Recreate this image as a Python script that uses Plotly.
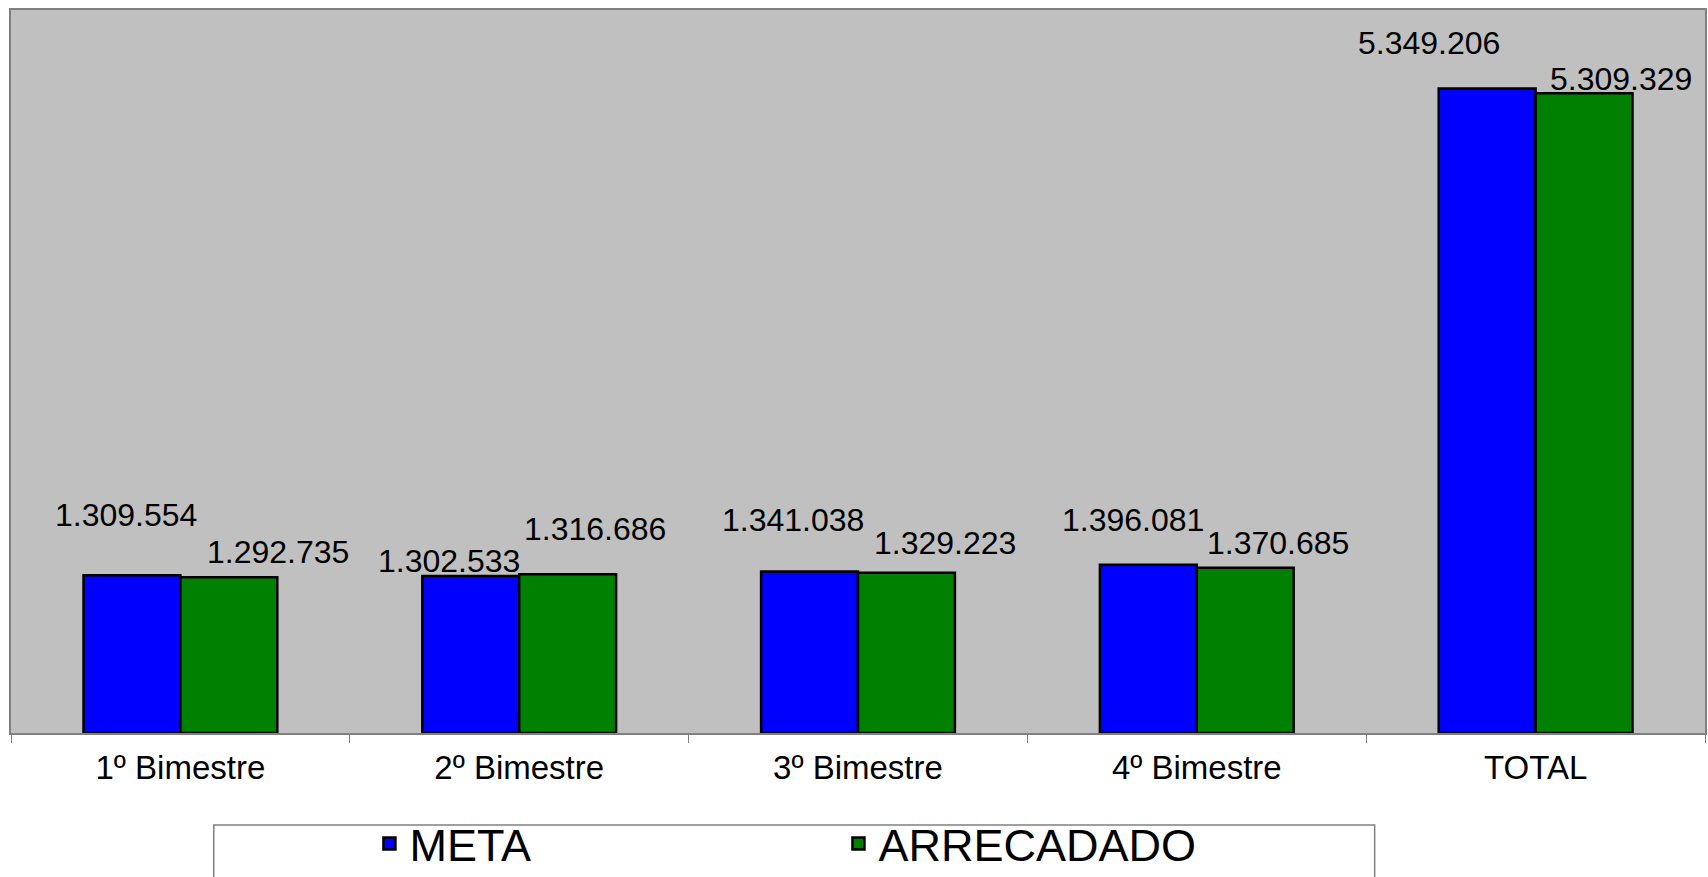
import plotly.graph_objects as go

categories = ["1º Bimestre", "2º Bimestre", "3º Bimestre", "4º Bimestre", "TOTAL"]
meta = [1309554, 1302533, 1341038, 1396081, 5349206]
arrecadado = [1292735, 1316686, 1329223, 1370685, 5309329]

# label offsets in px (style only): (dx from bar centre, dy above bar top)
meta_off = [(-6, 60), (-22, 15), (-17, 51), (-15, 45), (-58, 45)]
arr_off = [(49, 25), (27, 45), (38, 30), (33, 25), (37, 14)]

FONT = "Liberation Sans, Arial, sans-serif"
BAR_HALF = 48.5


def fmt(v):
    return f"{v:,}".replace(",", ".")


fig = go.Figure()
fig.add_trace(go.Bar(
    name="META", x=categories, y=meta,
    marker=dict(color="#0000FF", line=dict(color="black", width=2.5)),
    hoverinfo="x+y",
))
fig.add_trace(go.Bar(
    name="ARRECADADO", x=categories, y=arrecadado,
    marker=dict(color="#008000", line=dict(color="black", width=2.5)),
    hoverinfo="x+y",
))

annotations = []
for cat, v, (dx, dy) in zip(categories, meta, meta_off):
    annotations.append(dict(x=cat, y=v, xref="x", yref="y", text=fmt(v),
                            showarrow=False, xshift=-BAR_HALF + dx, yshift=dy,
                            xanchor="center", yanchor="middle",
                            font=dict(family=FONT, size=32, color="black")))
for cat, v, (dx, dy) in zip(categories, arrecadado, arr_off):
    annotations.append(dict(x=cat, y=v, xref="x", yref="y", text=fmt(v),
                            showarrow=False, xshift=BAR_HALF + dx, yshift=dy,
                            xanchor="center", yanchor="middle",
                            font=dict(family=FONT, size=32, color="black")))

fig.update_layout(
    width=1708, height=877,
    margin=dict(l=11, r=1, t=10, b=144, pad=0),
    paper_bgcolor="white",
    plot_bgcolor="#C0C0C0",
    barmode="group",
    bargap=0.428,
    bargroupgap=0,
    font=dict(family=FONT, color="black"),
    annotations=annotations,
    showlegend=True,
    legend=dict(
        orientation="h",
        x=0.2116, y=0.038, xanchor="left", yanchor="middle",
        xref="paper", yref="container",
        font=dict(family=FONT, size=45, color="black"),
        bgcolor="rgba(0,0,0,0)",
        entrywidth=424, entrywidthmode="pixels",
        itemclick="toggle",
    ),
    shapes=[dict(type="rect", xref="paper", yref="paper",
                 x0=0.1197, x1=0.805, y0=-0.1272, y1=-0.30,
                 line=dict(color="#808080", width=1.5), fillcolor="rgba(0,0,0,0)",
                 layer="below")],
    xaxis=dict(
        showline=True, linecolor="#808080", linewidth=2, mirror=True,
        ticks="outside", ticklen=8, tickcolor="#808080", tickwidth=1,
        tickson="boundaries",
        tickfont=dict(family=FONT, size=33, color="black"),
        ticklabelstandoff=4,
        showgrid=False, zeroline=False,
    ),
    yaxis=dict(
        range=[0, 6000000],
        showline=True, linecolor="#808080", linewidth=2, mirror=True,
        showticklabels=False, ticks="", showgrid=False, zeroline=False,
    ),
)

fig.write_html("out.html", config={"displayModeBar": False},
               post_script="document.body.style.margin='0';document.body.style.overflow='hidden';")
